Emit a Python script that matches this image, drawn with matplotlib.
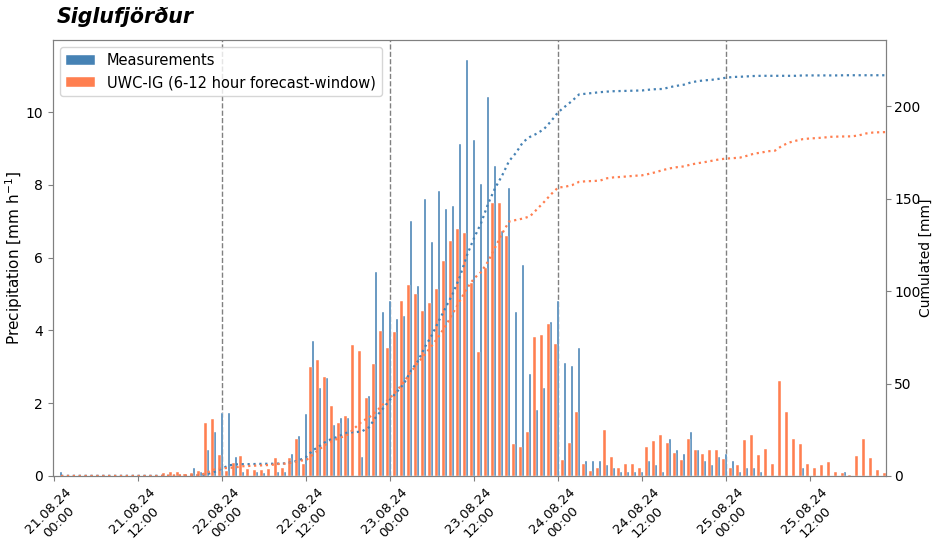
import matplotlib
matplotlib.use("Agg")
import matplotlib.pyplot as plt
import numpy as np
import pandas as pd

# hourly values, 21.08.24 01:00 -> 25.08.24 23:00
times = pd.date_range("2024-08-21 01:00", periods=119, freq="h")

measured = [
    0.1, 0, 0, 0, 0, 0, 0, 0, 0, 0, 0, 0, 0, 0, 0, 0, 0, 0, 0, 0.22,
    0.1, 0.71, 1.2, 1.72, 1.72, 0.52, 0.11, 0, 0.11, 0.09, 0, 0.11, 0.1, 0.6, 1.1, 1.7,
    3.72, 2.41, 2.7, 1.4, 1.6, 1.6, 0, 0.51, 2.2, 5.61, 4.51, 4.8,
    4.31, 4.4, 7.01, 5.23, 7.62, 6.43, 7.82, 7.33, 7.43, 9.12, 11.43, 9.23,
    8.02, 10.42, 8.52, 6.72, 7.92, 4.51, 5.81, 2.8, 1.81, 2.43, 4.22, 4.82,
    3.11, 3.02, 3.52, 0.41, 0.41, 0.41, 0.31, 0.22, 0.1, 0.1, 0.1, 0.1,
    0.41, 0.3, 0.1, 1.01, 0.71, 0.61, 1.22, 0.71, 0.41, 0.3, 0.51, 0.6,
    0.41, 0.1, 0.21, 0.21, 0.1, 0, 0, 0, 0, 0, 0.21, 0,
    0, 0, 0, 0, 0.1, 0, 0, 0, 0, 0, 0,
]

forecast = [
    0, 0, 0, 0, 0, 0, 0, 0, 0, 0, 0, 0, 0, 0, 0, 0.09, 0.1, 0.12, 0.05, 0.09,
    0.15, 1.46, 1.57, 0.57, 0.15, 0.37, 0.55, 0.19, 0.17, 0.17, 0.19, 0.49, 0.23, 0.49, 1.03, 0.33,
    2.99, 3.19, 2.71, 1.92, 1.45, 1.66, 3.6, 3.44, 2.13, 3.08, 3.98, 3.53,
    3.95, 4.8, 5.25, 5.0, 4.54, 4.76, 5.15, 5.91, 6.45, 6.78, 6.67, 5.31,
    3.41, 5.71, 7.51, 7.51, 6.59, 0.88, 0.79, 1.2, 3.83, 3.87, 4.18, 3.63,
    0.44, 0.9, 1.76, 0.33, 0.13, 0.23, 1.26, 0.51, 0.21, 0.32, 0.32, 0.23,
    0.79, 0.95, 1.13, 0.9, 0.64, 0.44, 1.01, 0.71, 0.6, 0.71, 0.71, 0.46,
    0.23, 0.3, 0.99, 1.14, 0.57, 0.74, 0.32, 2.61, 1.76, 1.01, 0.87, 0.34,
    0.21, 0.3, 0.38, 0.12, 0.09, 0.04, 0.54, 1.02, 0.5, 0.16, 0.09,
]

tick_times = pd.date_range("2024-08-21 00:00", "2024-08-25 12:00", freq="12h")
day_lines = pd.date_range("2024-08-22", "2024-08-25", freq="D")

BLUE = "#4682b4"
ORANGE = "#ff7f50"
hour = 1 / 24

fig = plt.figure(figsize=(9.34, 5.47), dpi=100)
ax = fig.add_axes([0.0567, 0.1298, 0.892, 0.797])

ax.bar(times, measured, width=0.42 * hour, color=BLUE, edgecolor="white",
       linewidth=0.3, label="Measurements", zorder=2)
ax.bar(times - pd.Timedelta(minutes=25), forecast, width=0.42 * hour, color=ORANGE,
       edgecolor="white", linewidth=0.3, label="UWC-IG (6-12 hour forecast-window)", zorder=2)

for d in day_lines:
    ax.axvline(d, color="gray", linestyle="--", linewidth=1, zorder=1)

ax.set_xlim(pd.Timestamp("2024-08-21 00:00") - pd.Timedelta(minutes=9),
            pd.Timestamp("2024-08-25 22:52"))
ax.set_ylim(0, 11.98)
ax.set_xticks(tick_times)
ax.set_xticklabels([t.strftime("%d.%m.%y\n%H:%M") for t in tick_times], rotation=45,
                   fontsize=9.5)
ax.tick_params(axis="y", labelsize=10)
ax.set_ylabel("Precipitation [mm h$^{-1}$]", fontsize=11)
ax.yaxis.set_label_coords(-0.034, 0.5)
ax.legend(loc="upper left", fontsize=10.5)
ax.text(0.004, 1.03, "Siglufjörður", transform=ax.transAxes, fontsize=14.8,
        fontweight="bold", fontstyle="italic", ha="left", va="bottom")

ax2 = ax.twinx()
ax2.plot(times, np.cumsum(measured), ":", color=BLUE, linewidth=1.6)
ax2.plot(times, np.cumsum(forecast), ":", color=ORANGE, linewidth=1.6)
ax2.set_ylim(0, 235.7)
ax2.set_yticks([0, 50, 100, 150, 200])
ax2.tick_params(axis="y", labelsize=10, pad=2.5)
ax2.set_ylabel("Cumulated [mm]", fontsize=10)
ax2.yaxis.set_label_coords(1.0395, 0.5)

for a in (ax, ax2):
    for s in a.spines.values():
        s.set_color("#808080")
    a.tick_params(color="#808080")

fig.savefig("out.png", dpi=100)
